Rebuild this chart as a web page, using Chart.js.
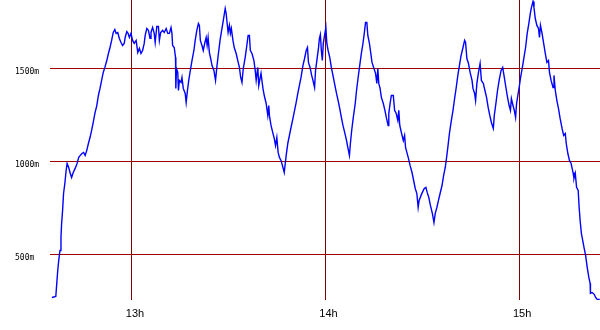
<!DOCTYPE html>
<html>
<head>
<meta charset="utf-8">
<script src="https://cdn.jsdelivr.net/npm/chart.js@4"></script>
<style>
  html, body { margin: 0; padding: 0; background: #ffffff; }
  canvas { display: block; }
</style>
</head>
<body>
<canvas id="c" width="600" height="330"></canvas>
<script>
// Time of day in minutes after midnight
const times = [
  755.2,756.4,756.7,757.0,757.3,757.7,758.0,758.2,758.5,758.8,759.2,759.6,759.9,760.4,760.8,761.3,761.8,762.4,763.0,763.5,
  764.0,764.5,765.0,765.5,766.0,766.5,767.0,767.5,768.0,768.5,769.1,769.6,770.1,770.6,771.1,771.6,772.2,772.7,773.2,773.7,
  774.2,774.7,775.1,775.6,776.1,776.6,777.1,777.6,777.9,778.4,778.8,779.2,
  779.7,780.2,780.7,781.3,781.8,782.3,782.8,783.3,783.8,784.1,784.6,785.1,785.6,785.9,786.4,786.9,787.2,787.7,788.2,788.5,
  788.9,789.5,790.0,790.6,791.1,791.6,792.1,792.4,792.6,793.1,793.5,793.6,793.8,794.2,794.4,794.7,795.2,795.5,795.9,796.5,
  796.8,797.2,797.6,798.1,798.6,799.2,799.6,800.1,800.6,800.9,801.2,801.7,802.1,802.6,803.0,803.3,803.6,804.0,804.4,
  804.8,805.4,805.9,806.3,806.8,807.3,807.8,808.3,808.9,809.2,809.5,809.8,810.2,810.5,810.8,811.3,811.7,812.3,812.8,813.3,
  813.7,814.1,814.5,815.1,815.6,816.0,816.4,816.7,817.2,817.8,818.2,818.5,819.0,819.3,819.7,820.0,820.6,821.0,821.6,822.1,
  822.4,822.6,823.1,823.7,824.1,824.5,824.9,825.3,825.7,826.2,826.8,827.2,
  827.8,828.3,828.8,829.3,829.9,830.4,830.9,831.4,831.9,832.4,833.0,833.5,834.0,834.4,834.7,835.2,835.7,836.1,836.6,836.9,
  837.3,837.8,838.1,838.4,838.7,839.0,839.3,839.8,840.1,840.4,840.8,841.3,841.8,842.3,842.9,843.4,843.9,844.4,844.9,845.4,
  846.0,846.5,846.9,847.4,847.7,848.1,848.6,849.2,849.6,850.1,850.6,851.1,851.6,852.0,852.4,852.8,853.1,853.6,854.0,
  854.4,855.0,855.5,855.9,856.2,856.5,856.9,857.3,857.9,858.4,858.9,859.4,859.6,860.0,860.4,861.0,861.4,861.9,862.4,862.7,
  863.0,863.5,864.1,864.5,864.8,865.2,865.7,866.2,866.8,867.3,867.8,868.3,868.7,869.0,869.6,870.0,870.6,871.1,871.5,872.0,
  872.5,873.1,873.6,874.0,874.5,875.0,875.5,876.1,876.6,877.1,
  877.4,877.9,878.4,878.9,879.5,880.0,880.5,881.0,881.5,882.0,882.6,883.1,883.4,883.8,884.3,884.8,885.4,885.7,886.2,886.5,
  886.9,887.4,887.9,888.3,888.9,889.4,889.9,890.4,890.9,891.4,892.0,892.3,892.8,893.3,893.8,894.4,894.9,895.4,895.9,896.4,
  896.9,897.3,897.6,898.1,898.5,898.9,899.2,899.7,900.1,900.4,901.0,901.5,902.0,902.5,903.0,903.5,903.8,904.3,
  904.6,905.0,905.5,906.0,906.3,906.6,907.1,907.6,908.1,908.6,909.1,909.4,909.9,910.5,910.8,911.2,911.7,912.2,912.7,913.3,
  913.8,914.3,914.6,915.1,915.6,916.1,916.7,917.0,917.4,917.8,918.3,918.6,918.9,919.3,919.7,920.1,920.6,921.1,921.6,922.0,
  922.1,922.6,923.0,923.3,923.7,924.2,925.0
];
// Altitude in metres
const altitudes = [
  270,276,346,415,469,523,593,668,738,829,883,953,991,969,942,915,942,964,991,1023,
  1034,1044,1050,1034,1061,1098,1130,1168,1211,1259,1302,1356,1394,1437,1480,1507,1544,1582,1614,1652,
  1695,1711,1690,1695,1663,1641,1625,1636,1668,1700,1690,1668,
  1690,1652,1636,1652,1587,1609,1582,1598,1636,1679,1716,1706,1663,1695,1722,1690,1641,1727,1727,1652,
  1695,1706,1695,1716,1690,1690,1722,1690,1625,1614,1561,1394,1501,1480,1383,1437,1426,1453,1394,1367,
  1319,1383,1437,1491,1544,1598,1652,1706,1743,1733,1652,1625,1598,1641,1668,1625,1668,1587,1555,
  1518,1491,1437,1507,1582,1652,1706,1759,1824,1797,1743,1695,1733,1690,1716,1652,1614,1582,1544,1507,
  1453,1426,1501,1561,1625,1679,1679,1598,1582,1544,1491,1437,1507,1410,1448,1475,1394,1356,1313,1249,
  1302,1249,1195,1152,1125,1087,1130,1050,1023,1007,969,942,
  1034,1098,1141,1184,1233,1276,1319,1367,1410,1453,1518,1555,1598,1614,1534,1507,1464,1437,1399,1491,
  1544,1609,1663,1684,1598,1544,1636,1690,1722,1636,1598,1561,1507,1464,1410,1367,1329,1286,1238,1195,
  1152,1114,1077,1034,1098,1168,1238,1313,1383,1453,1518,1582,1636,1690,1749,1749,1679,1636,1587,
  1534,1501,1475,1421,1501,1421,1394,1346,1313,1276,1233,1195,1259,1313,1356,1356,1276,1259,1222,1276,
  1195,1157,1114,1141,1077,1050,1018,980,942,899,856,829,754,792,819,835,856,862,835,808,
  765,722,673,722,754,792,829,872,926,969,
  1007,1077,1152,1211,1276,1340,1399,1464,1518,1571,1614,1652,1641,1555,1528,1480,1437,1394,1367,1329,
  1421,1480,1528,1437,1421,1383,1346,1292,1249,1211,1179,1249,1313,1383,1437,1491,1507,1453,1399,1346,
  1302,1276,1340,1302,1276,1238,1313,1367,1410,1448,1507,1561,1614,1690,1743,1802,1829,1862,
  1829,1770,1733,1716,1668,1733,1690,1636,1582,1534,1544,1480,1437,1399,1464,1383,1329,1286,1233,1179,
  1141,1152,1098,1044,1007,991,942,910,937,862,846,754,684,614,577,539,496,432,378,346,
  292,297,292,286,270,260,260
];
const xTicks = [780, 840, 900];      // 13h, 14h, 15h
const yTicks = [500, 1000, 1500];

const points = times.map((t, i) => ({ x: t, y: altitudes[i] }));

new Chart(document.getElementById('c'), {
  type: 'line',
  data: {
    datasets: [{
      data: points,
      borderColor: '#0000ff',
      borderWidth: 1.4,
      pointRadius: 0,
      tension: 0,
      fill: false
    }]
  },
  options: {
    responsive: false,
    animation: false,
    devicePixelRatio: 1,
    layout: { padding: { left: 15, right: 0, top: 0, bottom: 0 } },
    plugins: { legend: { display: false }, tooltip: { enabled: false } },
    scales: {
      x: {
        type: 'linear',
        min: 754.6,
        max: 925.06,
        afterBuildTicks: (ax) => { ax.ticks = xTicks.map(v => ({ value: v })); },
        afterFit: (ax) => { ax.height = 30; ax.paddingLeft = 0; ax.paddingRight = 0; },
        grid: { color: '#800000', lineWidth: 1, drawTicks: false },
        border: { display: false },
        ticks: {
          padding: 7,
          labelOffset: 3,
          color: '#000000',
          font: { family: 'Liberation Sans', size: 11 },
          callback: (v) => (v / 60) + 'h'
        }
      },
      y: {
        type: 'linear',
        min: 256.5,
        max: 1869.5,
        afterBuildTicks: (ax) => { ax.ticks = yTicks.map(v => ({ value: v })); },
        afterFit: (ax) => { ax.width = 35; ax.paddingTop = 0; ax.paddingBottom = 0; },
        grid: { color: '#a00000', lineWidth: 1, drawTicks: false },
        border: { display: false },
        ticks: {
          crossAlign: 'far',
          labelOffset: 3,
          padding: 0,
          color: '#000000',
          font: { family: 'DejaVu Sans Mono', size: 8 },
          callback: (v) => v + 'm'
        }
      }
    }
  }
});
</script>
</body>
</html>
